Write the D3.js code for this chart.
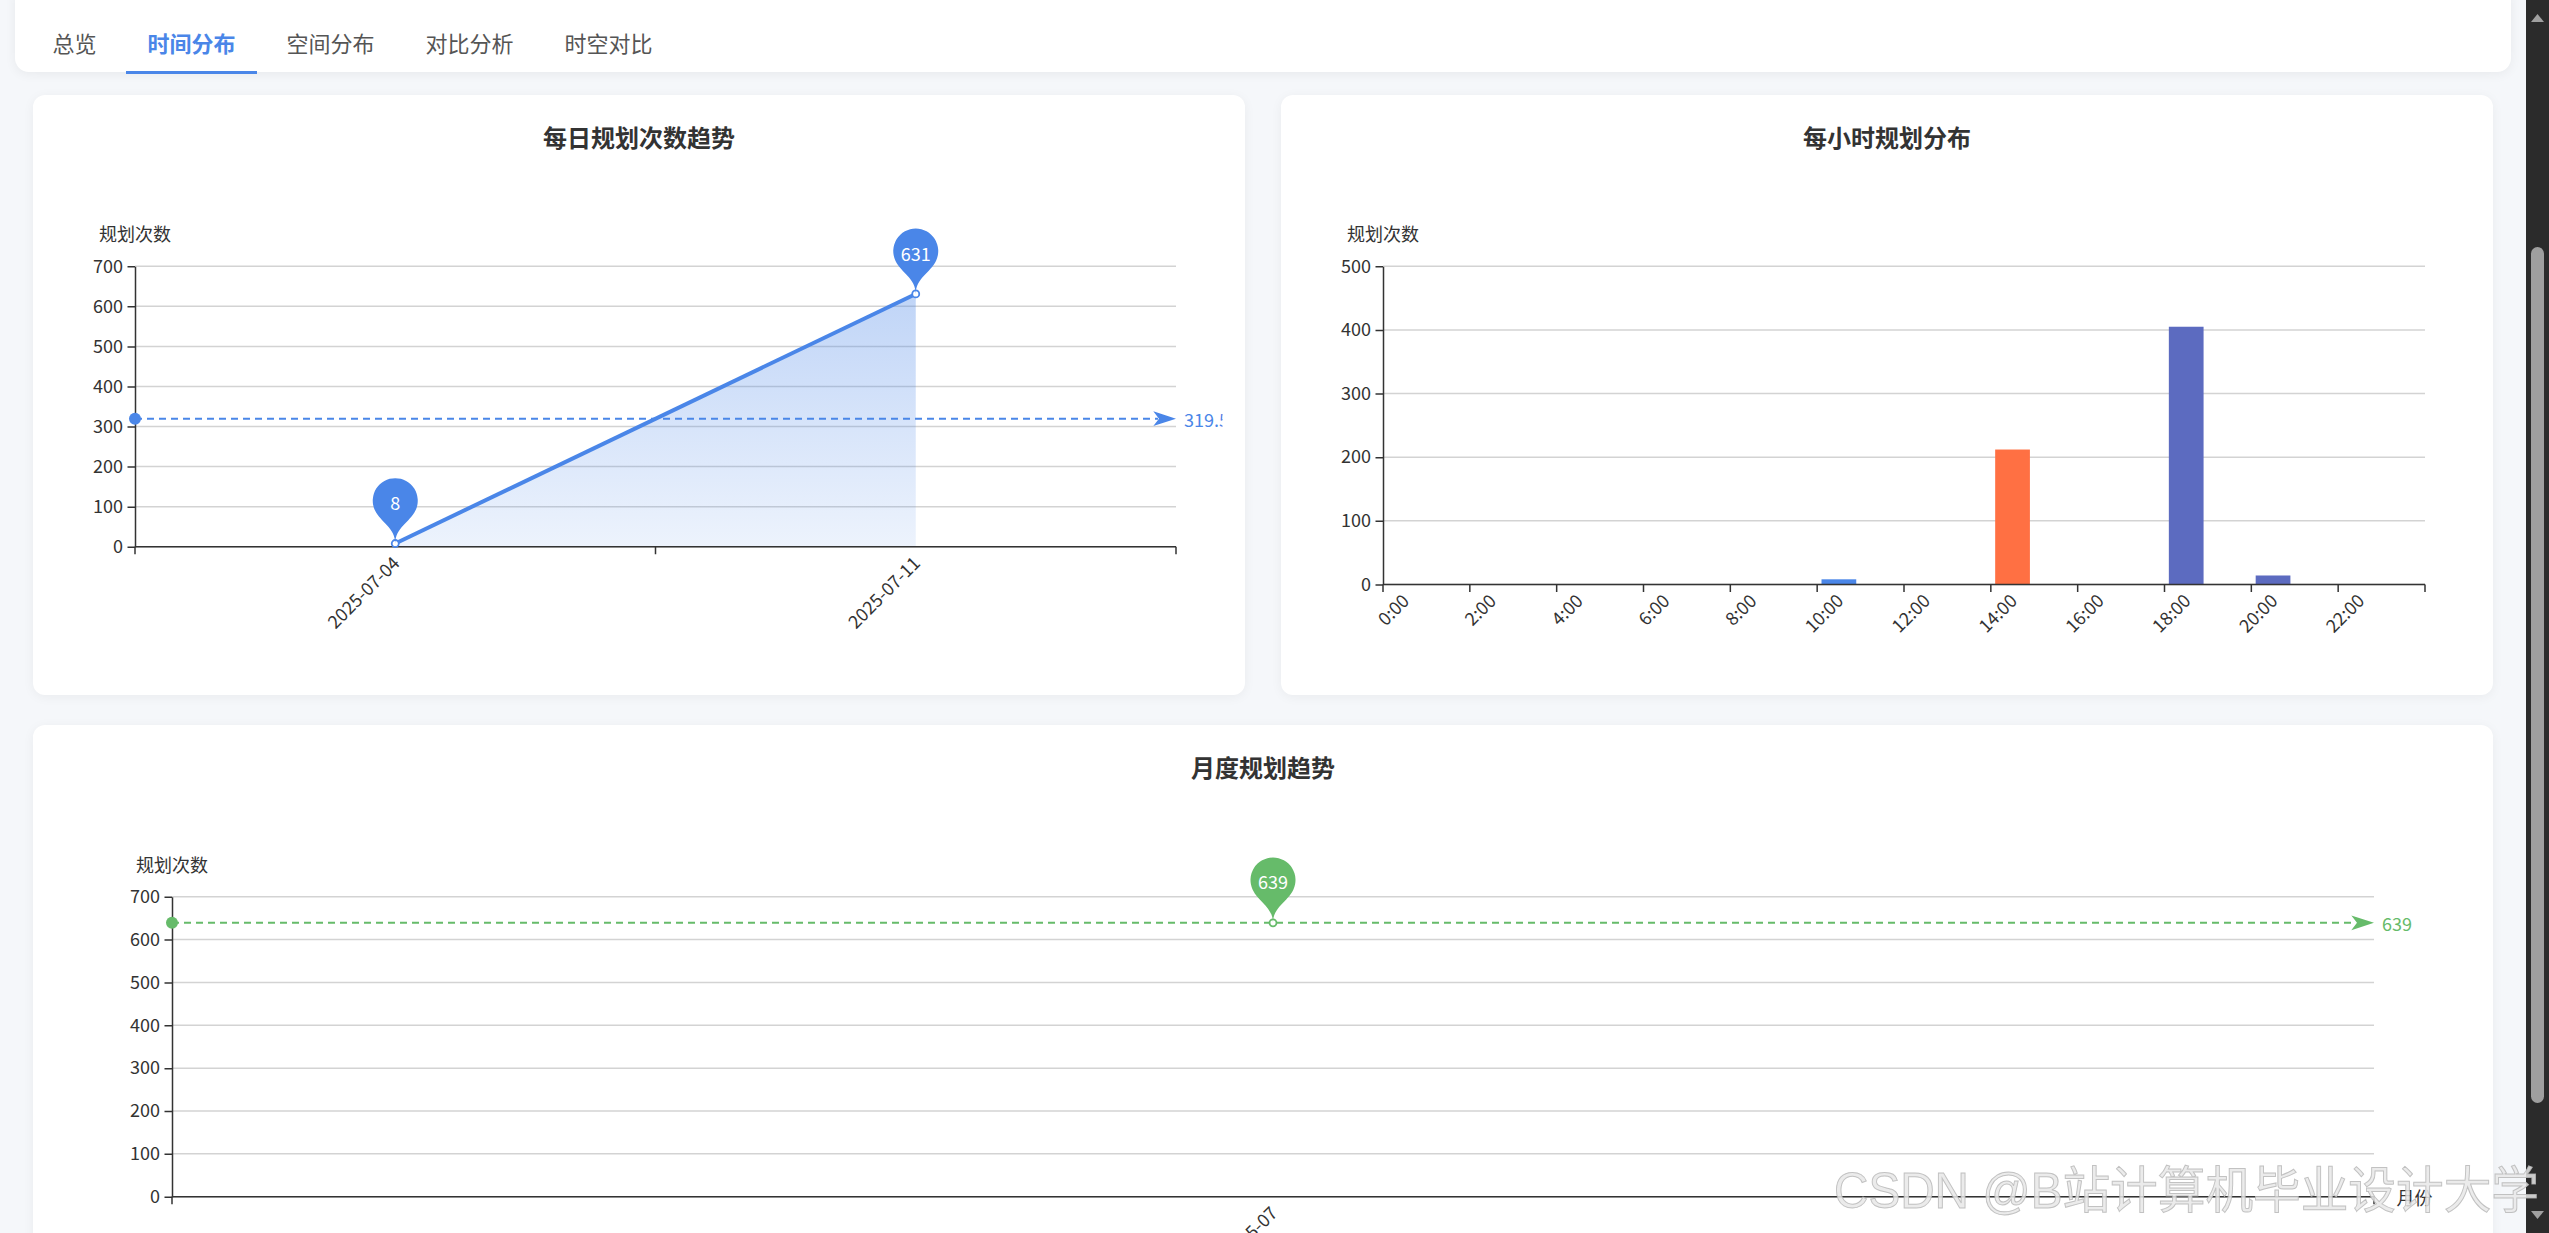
<!DOCTYPE html>
<html>
<head>
<meta charset="utf-8">
<script src="https://cdn.jsdelivr.net/npm/d3@7"></script>
<style>
  html, body { margin:0; padding:0; width:2549px; height:1233px; overflow:hidden; background:#f5f7fa;
    font-family:"Microsoft YaHei","Noto Sans CJK SC","Noto Sans",sans-serif; }
  .tabcard { position:absolute; left:15px; top:-20px; width:2496px; height:92px; background:#fff;
    border-radius:14px; box-shadow:0 2px 12px rgba(0,0,0,0.06); }
  .tabs { position:absolute; left:31px; top:0; height:72px; display:flex; }
  .tab { position:relative; padding:0 21.5px; margin-right:8px; height:72px; line-height:84px;
    font-size:22px; color:#555; white-space:nowrap; }
  .tab.active { color:#4a86e8; font-weight:600; }
  .tab.active::after { content:""; position:absolute; left:0; right:0; top:70.5px; height:3.5px; background:#4a86e8; }
  .card { position:absolute; background:#fff; border-radius:12px; box-shadow:0 2px 12px rgba(0,0,0,0.05); }
  #charts { position:absolute; left:0; top:0; }
  .sbar { position:absolute; left:2526px; top:0; width:23px; height:1233px; background:#2b2b2b; }
  .thumb { position:absolute; left:5px; top:247px; width:13px; height:856px; background:#9f9f9f; border-radius:7px; }
  #wm { position:absolute; left:0; top:0; pointer-events:none; }
</style>
</head>
<body>
<div class="tabcard"></div>
<div class="tabs" id="tabs"></div>
<div id="cards"></div>
<svg id="charts" width="2526" height="1233"></svg>
<div class="sbar">
  <svg width="23" height="1233" style="position:absolute;left:0;top:0">
    <path d="M5,22 L11.5,14 L18,22 Z" fill="#a0a0a0"/>
    <path d="M5,1211 L11.5,1219 L18,1211 Z" fill="#a0a0a0"/>
  </svg>
  <div class="thumb"></div>
</div>
<svg id="wm" width="2549" height="1233"></svg>
<script>
// ---------------- data ----------------
const tabLabels = ["总览", "时间分布", "空间分布", "对比分析", "时空对比"];
const activeTab = 1;

const chartTitles = ["每日规划次数趋势", "每小时规划分布", "月度规划趋势"];
const yAxisName = "规划次数";
const monthAxisName = "月份";

const dailyDates = ["2025-07-04", "2025-07-11"];
const dailyCounts = [8, 631];
const dailyTicks = [0, 100, 200, 300, 400, 500, 600, 700];

const hourLabels = ["0:00","1:00","2:00","3:00","4:00","5:00","6:00","7:00","8:00","9:00","10:00","11:00",
                    "12:00","13:00","14:00","15:00","16:00","17:00","18:00","19:00","20:00","21:00","22:00","23:00"];
const hourlyCounts = [0,0,0,0,0,0,0,0,0,0,8,0,0,0,212,0,0,0,405,0,14,0,0,0];
const hourlyTicks = [0, 100, 200, 300, 400, 500];

const monthLabels = ["2025-07"];
const monthlyCounts = [639];
const monthlyTicks = [0, 100, 200, 300, 400, 500, 600, 700];

const watermarkText = "CSDN @B站计算机毕业设计大学";

// ---------------- styles / layout ----------------
const FONT = '"Microsoft YaHei","Noto Sans CJK SC","Noto Sans",sans-serif';
const BLUE = "#4a86e8", ORANGE = "#ff7043", INDIGO = "#5c6bc0", GREEN = "#66bb6a";
const AXIS = "#333", GRID = "#d3d3d3", TEXT = "#333";
function hourColor(h) { return h < 12 ? BLUE : (h < 18 ? ORANGE : INDIGO); }

const cards = [
  {x:33, y:95, w:1212, h:600},
  {x:1281, y:95, w:1212, h:600},
  {x:33, y:725, w:2460, h:600}
];

// tabs
d3.select("#tabs").selectAll("div").data(tabLabels).join("div")
  .attr("class", (d, i) => "tab" + (i === activeTab ? " active" : ""))
  .text(d => d);

d3.select("#cards").selectAll("div").data(cards).join("div")
  .attr("class", "card")
  .style("left", d => d.x + "px").style("top", d => d.y + "px")
  .style("width", d => d.w + "px").style("height", d => d.h + "px");

const svg = d3.select("#charts");
const defs = svg.append("defs");

function pinPath(x, y, size) {
  const w = size * 3 / 5, h = Math.max(w, size);
  const r = w / 2;
  const dy = r * r / (h - r);
  const cy = y - h + r + dy;
  const angle = Math.asin(dy / r);
  const dx = Math.cos(angle) * r;
  const tanX = Math.sin(angle), tanY = Math.cos(angle);
  const cpLen = r * 0.6, cpLen2 = r * 0.7;
  const p = d3.path();
  p.moveTo(x - dx, cy + dy);
  p.arc(x, cy, r, Math.PI - angle, Math.PI * 2 + angle);
  p.bezierCurveTo(x + dx - tanX * cpLen, cy + dy + tanY * cpLen, x, y - cpLen2, x, y);
  p.bezierCurveTo(x, y - cpLen2, x - dx + tanX * cpLen, cy + dy + tanY * cpLen, x - dx, cy + dy);
  p.closePath();
  return {d: p.toString(), cy: cy};
}

function makeChart(idx, grid, ticks, maxV) {
  const card = cards[idx];
  const clipId = "clip" + idx;
  defs.append("clipPath").attr("id", clipId).append("rect")
    .attr("x", card.x + 22.5).attr("y", card.y + 22.5)
    .attr("width", card.w - 45).attr("height", card.h - 45);
  const g = svg.append("g").attr("clip-path", `url(#${clipId})`);
  // title
  g.append("text").attr("x", card.x + card.w / 2).attr("y", card.y + 41)
    .attr("text-anchor", "middle").attr("dominant-baseline", "central")
    .attr("font-family", FONT).attr("font-size", 24).attr("font-weight", "bold")
    .attr("fill", TEXT).text(chartTitles[idx]);
  const y = d3.scaleLinear().domain([0, maxV]).range([grid.bottom, grid.top]);
  // grid lines
  g.append("g").selectAll("line").data(ticks).join("line")
    .attr("x1", grid.left).attr("x2", grid.right)
    .attr("y1", d => y(d)).attr("y2", d => y(d))
    .attr("stroke", GRID).attr("stroke-width", 1.5);
  // y axis
  const ax = g.append("g").attr("transform", `translate(${grid.left},0)`)
    .call(d3.axisLeft(y).tickValues(ticks).tickSize(7.5).tickPadding(4.5).tickSizeOuter(0))
    .attr("font-family", FONT).attr("font-size", 18);
  ax.select(".domain").attr("stroke", AXIS).attr("stroke-width", 1.5);
  ax.selectAll(".tick line").attr("stroke", AXIS).attr("stroke-width", 1.5);
  ax.selectAll(".tick text").attr("fill", TEXT);
  // y axis name
  g.append("text").attr("x", grid.left).attr("y", grid.top - 33)
    .attr("text-anchor", "middle").attr("dominant-baseline", "central")
    .attr("font-family", FONT).attr("font-size", 18).attr("fill", TEXT).text(yAxisName);
  return {g, y};
}

function drawXAxis(g, x, grid, labels, tickEvery, labelEvery) {
  g.append("line").attr("x1", grid.left).attr("x2", grid.right)
    .attr("y1", grid.bottom).attr("y2", grid.bottom)
    .attr("stroke", AXIS).attr("stroke-width", 1.5);
  const n = labels.length;
  const bounds = d3.range(0, n + 1).filter(i => i % tickEvery === 0 || i === n);
  const bw = x.bandwidth();
  g.append("g").selectAll("line").data(bounds).join("line")
    .attr("x1", i => grid.left + i * bw).attr("x2", i => grid.left + i * bw)
    .attr("y1", grid.bottom).attr("y2", grid.bottom + 7.5)
    .attr("stroke", AXIS).attr("stroke-width", 1.5);
  g.append("g").selectAll("text").data(labels.filter((d, i) => i % labelEvery === 0)).join("text")
    .attr("transform", d => `translate(${x(d) + bw / 2},${grid.bottom + 12}) rotate(-45)`)
    .attr("text-anchor", "end").attr("dominant-baseline", "central")
    .attr("font-family", FONT).attr("font-size", 18).attr("fill", TEXT).text(d => d);
}

function drawMarkLine(g, grid, yv, color, label) {
  g.append("line").attr("x1", grid.left).attr("x2", grid.right - 18)
    .attr("y1", yv).attr("y2", yv)
    .attr("stroke", color).attr("stroke-width", 2).attr("stroke-dasharray", "7,5");
  g.append("circle").attr("cx", grid.left).attr("cy", yv).attr("r", 6).attr("fill", color);
  const L = 22.7, W = 7.4, xe = grid.right;
  g.append("path").attr("d", `M${xe},${yv} L${xe - L},${yv - W} L${xe - L * 0.75},${yv} L${xe - L},${yv + W} Z`)
    .attr("fill", color);
  g.append("text").attr("x", xe + 8).attr("y", yv).attr("dominant-baseline", "central")
    .attr("font-family", FONT).attr("font-size", 18).attr("fill", color).text(label);
}

function drawPin(g, px, py, color, label) {
  const pin = pinPath(px, py, 75);
  g.append("path").attr("d", pin.d).attr("fill", color);
  g.append("text").attr("x", px).attr("y", pin.cy + 1.5)
    .attr("text-anchor", "middle").attr("dominant-baseline", "central")
    .attr("font-family", FONT).attr("font-size", 18).attr("fill", "#fff").text(label);
}

function fmt(v) { return Number.isInteger(v) ? String(v) : String(Math.round(v * 100) / 100); }

// ---------------- chart 1: daily ----------------
{
  const grid = {left:135, right:1176, top:266.3, bottom:546.7};
  const {g, y} = makeChart(0, grid, dailyTicks, 700);
  const x = d3.scaleBand().domain(dailyDates).range([grid.left, grid.right]);
  const cx = d => x(d) + x.bandwidth() / 2;
  const pts = dailyDates.map((d, i) => [cx(d), y(dailyCounts[i])]);
  const maxV = d3.max(dailyCounts);
  const grad = defs.append("linearGradient").attr("id", "dailyGrad")
    .attr("gradientUnits", "userSpaceOnUse").attr("x1", 0).attr("x2", 0)
    .attr("y1", y(maxV)).attr("y2", grid.bottom);
  grad.append("stop").attr("offset", 0).attr("stop-color", BLUE).attr("stop-opacity", 0.35);
  grad.append("stop").attr("offset", 1).attr("stop-color", BLUE).attr("stop-opacity", 0.1);
  g.append("path").datum(dailyCounts)
    .attr("d", d3.area().x((d, i) => cx(dailyDates[i])).y0(grid.bottom).y1(d => y(d)))
    .attr("fill", "url(#dailyGrad)");
  drawXAxis(g, x, grid, dailyDates, 1, 1);
  g.append("path").datum(dailyCounts)
    .attr("d", d3.line().x((d, i) => cx(dailyDates[i])).y(d => y(d)))
    .attr("fill", "none").attr("stroke", BLUE).attr("stroke-width", 4).attr("stroke-linejoin", "round");
  const mean = d3.mean(dailyCounts);
  drawMarkLine(g, grid, y(mean), BLUE, fmt(mean));
  g.append("g").selectAll("circle").data(pts).join("circle")
    .attr("cx", d => d[0]).attr("cy", d => d[1]).attr("r", 3.5)
    .attr("fill", "#fff").attr("stroke", BLUE).attr("stroke-width", 1.8);
  const iMax = dailyCounts.indexOf(d3.max(dailyCounts));
  const iMin = dailyCounts.indexOf(d3.min(dailyCounts));
  [iMax, iMin].forEach(i => drawPin(g, pts[i][0], pts[i][1], BLUE, fmt(dailyCounts[i])));
}

// ---------------- chart 2: hourly ----------------
{
  const grid = {left:1383, right:2425, top:266.3, bottom:584.4};
  const {g, y} = makeChart(1, grid, hourlyTicks, 500);
  const x = d3.scaleBand().domain(hourLabels).range([grid.left, grid.right]);
  const bw = x.bandwidth();
  g.append("g").selectAll("rect").data(hourlyCounts.map((v, i) => ({v, i}))).join("rect")
    .attr("x", d => x(hourLabels[d.i]) + bw * 0.1).attr("width", bw * 0.8)
    .attr("y", d => y(d.v)).attr("height", d => grid.bottom - y(d.v))
    .attr("fill", d => hourColor(d.i));
  drawXAxis(g, x, grid, hourLabels, 2, 2);
}

// ---------------- chart 3: monthly ----------------
{
  const grid = {left:172, right:2374, top:896.7, bottom:1196.7};
  const {g, y} = makeChart(2, grid, monthlyTicks, 700);
  const x = d3.scaleBand().domain(monthLabels).range([grid.left, grid.right]);
  const cx = d => x(d) + x.bandwidth() / 2;
  drawXAxis(g, x, grid, monthLabels, 1, 1);
  g.append("text").attr("x", grid.right + 22.5).attr("y", grid.bottom)
    .attr("dominant-baseline", "central").attr("font-family", FONT).attr("font-size", 18)
    .attr("fill", TEXT).text(monthAxisName);
  const mean = d3.mean(monthlyCounts);
  drawMarkLine(g, grid, y(mean), GREEN, fmt(mean));
  const pts = monthLabels.map((d, i) => [cx(d), y(monthlyCounts[i])]);
  g.append("g").selectAll("circle").data(pts).join("circle")
    .attr("cx", d => d[0]).attr("cy", d => d[1]).attr("r", 3.5)
    .attr("fill", "#fff").attr("stroke", GREEN).attr("stroke-width", 1.8);
  const iMax = monthlyCounts.indexOf(d3.max(monthlyCounts));
  drawPin(g, pts[iMax][0], pts[iMax][1], GREEN, fmt(monthlyCounts[iMax]));
}

// watermark
d3.select("#wm").append("text").attr("x", 1834).attr("y", 1208)
  .attr("font-family", '"Liberation Sans","Noto Sans CJK SC",sans-serif').attr("font-size", 50)
  .attr("textLength", 705).attr("lengthAdjust", "spacingAndGlyphs")
  .attr("fill", "#e8e8e8").attr("fill-opacity", 0.85)
  .attr("stroke", "#b5b5b5").attr("stroke-width", 1).attr("stroke-opacity", 0.8)
  .text(watermarkText);
</script>
</body>
</html>
